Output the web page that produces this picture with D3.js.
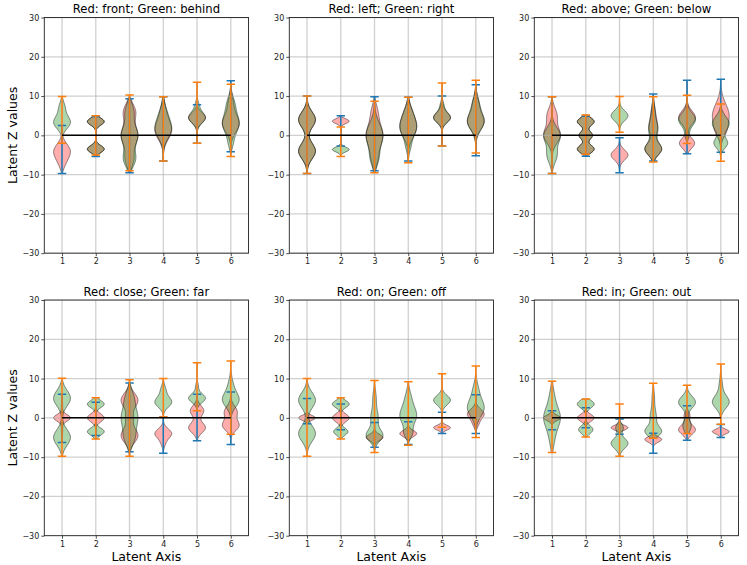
<!DOCTYPE html>
<html>
<head>
<meta charset="utf-8">
<script src="https://cdn.jsdelivr.net/npm/d3@7"></script>
<style>
  body { margin: 0; background: #fff; }
  svg { display: block; }
  text { font-family: "DejaVu Sans", sans-serif; }
</style>
</head>
<body>
<svg id="chart" width="747" height="565"></svg>
<script>
// ---------------- data ----------------
const titles = ["Red: front; Green: behind", "Red: left; Green: right", "Red: above; Green: below",
                "Red: close; Green: far", "Red: on; Green: off", "Red: in; Green: out"];
const latentAxes = [1, 2, 3, 4, 5, 6];
const yTickValues = [-30, -20, -10, 0, 10, 20, 30];
const xLabel = "Latent Axis";
const yLabel = "Latent Z values";

// per panel: [min, max] for each latent axis, and density modes [centre, spread, weight]
const p1RedRange = [[-9.7, 2.5], [-5.4, 4.8], [-9.5, 9.3], [-6.5, 9.8], [-2.0, 7.8], [-4.2, 13.9]];
const p1RedModes = [[[-4, 1.8, 1], [-7, 1.5, 0.3]], [[3.5, 0.9, 1], [-3.5, 0.9, 1]],
  [[0, 2.5, 1], [6, 2, 0.7], [-6, 2, 0.5]], [[1, 2.2, 1], [5, 2.5, 0.45]],
  [[4.5, 1.3, 1]], [[3, 2.2, 1], [8, 2, 0.3]]];
const p1GreenRange = [[-2.0, 9.9], [-5.0, 5.0], [-9.0, 10.3], [-6.5, 9.8], [-2.0, 13.5], [-5.4, 13.0]];
const p1GreenModes = [[[3.3, 1.6, 1], [7, 1.5, 0.35]], [[3.5, 0.9, 1], [-3.5, 0.9, 1]],
  [[0, 2.5, 1], [-6, 2, 0.7], [6, 2, 0.5]], [[1.5, 2.3, 1], [5.5, 2.3, 0.4]],
  [[4.5, 1.4, 1], [7.5, 1.2, 0.2]], [[3, 2.5, 1], [8, 2, 0.4], [-2, 1.5, 0.2]]];

const p2RedRange = [[-9.7, 10.0], [-2.7, 5.0], [-9.0, 9.8], [-6.5, 9.7], [-2.7, 10.0], [-5.2, 12.9]];
const p2RedModes = [[[4, 2, 1], [-4, 2, 1]], [[3.6, 0.6, 1], [-2.5, 0.6, 0.05]],
  [[0, 3, 1], [6, 2, 0.3], [-6, 2, 0.3]], [[2, 2.5, 1], [6, 2, 0.3]],
  [[4.5, 1.2, 1], [7, 1, 0.15]], [[3.5, 2, 1], [8, 2, 0.35]]];
const p2GreenRange = [[-9.7, 10.0], [-5.4, 2.1], [-9.5, 8.7], [-7.0, 9.7], [-2.7, 13.3], [-4.5, 14.0]];
const p2GreenModes = [[[4, 2, 1], [-4, 2, 1]], [[-3.6, 0.6, 1], [2, 0.6, 0.05]],
  [[0, 3, 1], [-6, 2, 0.4]], [[2, 2.5, 1], [6, 2, 0.3], [-3, 1.5, 0.2]],
  [[4.5, 1.3, 1], [7.5, 1.2, 0.2]], [[3.5, 2.2, 1], [8, 2, 0.35]]];

const p3RedRange = [[-9.7, 9.8], [-5.3, 4.9], [-9.5, -0.6], [-6.5, 10.5], [-4.7, 14.0], [-4.3, 14.3]];
const p3RedModes = [[[0, 2, 1], [5, 2, 0.6]], [[3.5, 1, 1], [0, 1, 0.8], [-3.5, 1, 1]],
  [[-5, 1.3, 1]], [[-3.5, 1.5, 1], [2, 2, 0.5], [6, 2, 0.2]],
  [[-2, 1.3, 0.9], [4.5, 1.7, 1]], [[5, 3, 1], [1, 1.5, 0.3]]];
const p3GreenRange = [[-9.7, 9.8], [-4.8, 5.2], [0.8, 9.9], [-6.8, 9.8], [-2.1, 10.2], [-6.6, 8.0]];
const p3GreenModes = [[[0, 2, 1], [-5, 2, 0.6]], [[3.5, 1, 1], [0, 1, 0.8], [-3.5, 1, 1]],
  [[5, 1.3, 1]], [[-3.5, 1.5, 1], [1.5, 2, 0.55], [6, 2, 0.2]],
  [[4, 1.7, 1], [0, 1, 0.2]], [[3, 1.8, 1], [-2, 1.3, 0.8]]];

const p4RedRange = [[-6.3, 6.0], [-4.5, 4.0], [-8.6, 8.9], [-9.0, 0.2], [-5.8, 6.0], [-6.8, 6.6]];
const p4RedModes = [[[0, 0.8, 1], [-3, 1.5, 0.08], [3, 1.5, 0.08]], [[0, 1, 1]],
  [[4.5, 1.8, 1], [-4.5, 1.8, 1], [0, 1.5, 0.4]], [[-4, 1.2, 1], [-6.5, 1, 0.2]],
  [[-2.5, 1.3, 1], [1.8, 1.3, 0.8]], [[-2, 1.3, 1], [1.5, 1.5, 0.8]]];
const p4GreenRange = [[-9.8, 10.1], [-5.4, 5.1], [-9.8, 9.7], [0.2, 10.0], [1.8, 14.0], [-4.2, 14.5]];
const p4GreenModes = [[[5, 2, 1], [-5, 2, 1]], [[3.5, 0.9, 1], [-3.5, 0.9, 1]],
  [[0, 2.5, 1], [-5, 2, 0.6], [5, 2, 0.5]], [[4, 1.3, 1], [7, 1.3, 0.3]],
  [[5, 1.1, 1], [8, 1, 0.15]], [[4.5, 1.8, 1], [8, 2, 0.3]]];

const p5RedRange = [[-1.5, 4.9], [-3.0, 3.5], [-7.5, -1.2], [-6.8, -1.0], [-4.0, 1.4], [-4.0, 5.9]];
const p5RedModes = [[[0, 0.6, 1], [3, 1, 0.05]], [[0, 1, 1]],
  [[-5, 0.8, 1]], [[-4, 0.8, 1]],
  [[-2.5, 0.6, 1]], [[1, 1.2, 1], [-1.5, 1, 0.3]]];
const p5GreenRange = [[-9.8, 10.0], [-5.4, 5.1], [-8.8, 9.5], [-7.0, 9.2], [-2.4, 11.2], [-5.0, 13.2]];
const p5GreenModes = [[[4.5, 2, 1], [-4, 2, 1]], [[3.5, 0.9, 1], [-3.5, 0.9, 0.85]],
  [[-4.5, 1.5, 1], [0, 2, 0.45], [5, 2, 0.2]], [[0.5, 2.3, 1], [5, 2, 0.3], [-4, 1.2, 0.4]],
  [[4.5, 1.2, 1]], [[2.5, 2.2, 1], [7, 2, 0.3]]];

const p6RedRange = [[-3.0, 1.8], [-2.5, 2.6], [-4.2, -0.3], [-9.0, -3.9], [-5.7, 3.1], [-5.0, -1.7]];
const p6RedModes = [[[0, 0.7, 1]], [[0, 0.9, 1]],
  [[-2.5, 0.6, 1]], [[-5.5, 0.7, 1]],
  [[-3, 1.2, 1], [0.5, 1, 0.35]], [[-3.5, 0.6, 1]]];
const p6GreenRange = [[-8.8, 9.3], [-4.9, 4.8], [-9.8, 3.5], [-5.2, 8.8], [-4.0, 8.3], [-1.6, 13.7]];
const p6GreenModes = [[[0, 2.5, 1], [5, 2.5, 0.3], [-5, 2.5, 0.3]], [[3.5, 1, 1], [-3, 1, 0.85]],
  [[-6.5, 1.3, 1], [-2.5, 1, 0.45]], [[-3.5, 1.2, 1], [0, 2, 0.4], [5, 2, 0.15]],
  [[4, 1.5, 1], [-2, 1.5, 0.5]], [[4, 1.6, 1], [8, 2, 0.2]]];

const redRanges = [p1RedRange, p2RedRange, p3RedRange, p4RedRange, p5RedRange, p6RedRange];
const redModes = [p1RedModes, p2RedModes, p3RedModes, p4RedModes, p5RedModes, p6RedModes];
const greenRanges = [p1GreenRange, p2GreenRange, p3GreenRange, p4GreenRange, p5GreenRange, p6GreenRange];
const greenModes = [p1GreenModes, p2GreenModes, p3GreenModes, p4GreenModes, p5GreenModes, p6GreenModes];

// ---------------- layout ----------------
const colLeft = [44.3, 289.3, 534.3];
const rowTop = [17.5, 300];
const pw = 204.2, ph = 235.7;
const violinWidth = 0.5;

const svg = d3.select("#chart");

function profile(range, modes) {
  const [lo, hi] = range;
  const n = 120;
  const pts = d3.range(n + 1).map(i => {
    const v = lo + (hi - lo) * i / n;
    const d = d3.sum(modes, m => m[2] * Math.exp(-0.5 * ((v - m[0]) / m[1]) ** 2));
    return { v, d };
  });
  const mx = d3.max(pts, p => p.d);
  pts.forEach(p => p.hw = violinWidth / 2 * p.d / mx);
  return pts;
}

titles.forEach((title, pi) => {
  const r = Math.floor(pi / 3), c = pi % 3;
  const left = colLeft[c], top = rowTop[r];
  const g = svg.append("g").attr("transform", `translate(${left},${top})`);
  const x = d3.scaleLinear().domain([0.475, 6.525]).range([0, pw]);
  const y = d3.scaleLinear().domain([-30, 30]).range([ph, 0]);

  const clipId = "clip" + pi;
  g.append("clipPath").attr("id", clipId).append("rect").attr("width", pw).attr("height", ph);
  const plot = g.append("g").attr("clip-path", `url(#${clipId})`);

  const series = [
    { ranges: redRanges[pi], modes: redModes[pi], fill: "#ff0000", line: "#1f77b4" },
    { ranges: greenRanges[pi], modes: greenModes[pi], fill: "#008000", line: "#ff7f0e" }
  ];

  // bodies
  series.forEach(s => {
    latentAxes.forEach((pos, i) => {
      const pts = profile(s.ranges[i], s.modes[i]);
      const area = d3.area()
        .x0(p => x(pos - p.hw)).x1(p => x(pos + p.hw)).y(p => y(p.v))
        .curve(d3.curveLinear);
      plot.append("path").datum(pts).attr("d", area)
        .attr("fill", s.fill).attr("fill-opacity", 0.32)
        .attr("stroke", "#000").attr("stroke-opacity", 0.45).attr("stroke-width", 1);
    });
  });

  // grid
  plot.append("g").selectAll("line").data(latentAxes).join("line")
    .attr("x1", d => x(d)).attr("x2", d => x(d)).attr("y1", 0).attr("y2", ph)
    .attr("stroke", "#b0b0b0").attr("stroke-opacity", 0.6).attr("stroke-width", 1.3);
  plot.append("g").selectAll("line").data(yTickValues).join("line")
    .attr("x1", 0).attr("x2", pw).attr("y1", d => y(d)).attr("y2", d => y(d))
    .attr("stroke", "#b0b0b0").attr("stroke-opacity", 0.6).attr("stroke-width", 1.3);

  // whisker lines
  series.forEach(s => {
    latentAxes.forEach((pos, i) => {
      const [lo, hi] = s.ranges[i];
      const cap = violinWidth / 4;
      const lg = plot.append("g").attr("stroke", s.line).attr("stroke-width", 1.5);
      lg.append("line").attr("x1", x(pos)).attr("x2", x(pos)).attr("y1", y(lo)).attr("y2", y(hi));
      lg.append("line").attr("x1", x(pos - cap)).attr("x2", x(pos + cap)).attr("y1", y(lo)).attr("y2", y(lo));
      lg.append("line").attr("x1", x(pos - cap)).attr("x2", x(pos + cap)).attr("y1", y(hi)).attr("y2", y(hi));
    });
  });

  // zero line
  plot.append("path").datum([1, 6])
    .attr("d", d3.line().x(d => x(d)).y(() => y(0)))
    .attr("stroke", "#000").attr("stroke-width", 1.5).attr("fill", "none");

  // axes
  const xAxis = d3.axisBottom(x).tickValues(latentAxes).tickFormat(d3.format("d")).tickSize(3).tickPadding(2.5);
  const yAxis = d3.axisLeft(y).tickValues(yTickValues).tickFormat(d => d < 0 ? "\u2212" + Math.abs(d) : d).tickSize(3).tickPadding(2);
  const gx = g.append("g").attr("transform", `translate(0,${ph})`).call(xAxis);
  const gy = g.append("g").call(yAxis);
  [gx, gy].forEach(a => {
    a.select(".domain").remove();
    a.selectAll("text").attr("font-size", 8).attr("font-family", "DejaVu Sans").attr("fill", "#222");
    a.selectAll("line").attr("stroke", "#222").attr("stroke-width", 0.8);
  });

  // spines
  g.append("rect").attr("width", pw).attr("height", ph)
    .attr("fill", "none").attr("stroke", "#222").attr("stroke-width", 0.9);

  // title
  g.append("text").attr("x", pw / 2).attr("y", -4.5).attr("text-anchor", "middle")
    .attr("font-size", 11.6).attr("fill", "#000").text(title);

  if (c === 0) {
    g.append("text").attr("transform", `translate(${-left + 16.5},${ph / 2}) rotate(-90)`)
      .attr("text-anchor", "middle").attr("font-size", 12.5).attr("fill", "#000").text(yLabel);
  }
  if (r === 1) {
    g.append("text").attr("x", pw / 2).attr("y", ph + 25).attr("text-anchor", "middle")
      .attr("font-size", 12.5).attr("fill", "#000").text(xLabel);
  }
});
</script>
</body>
</html>
